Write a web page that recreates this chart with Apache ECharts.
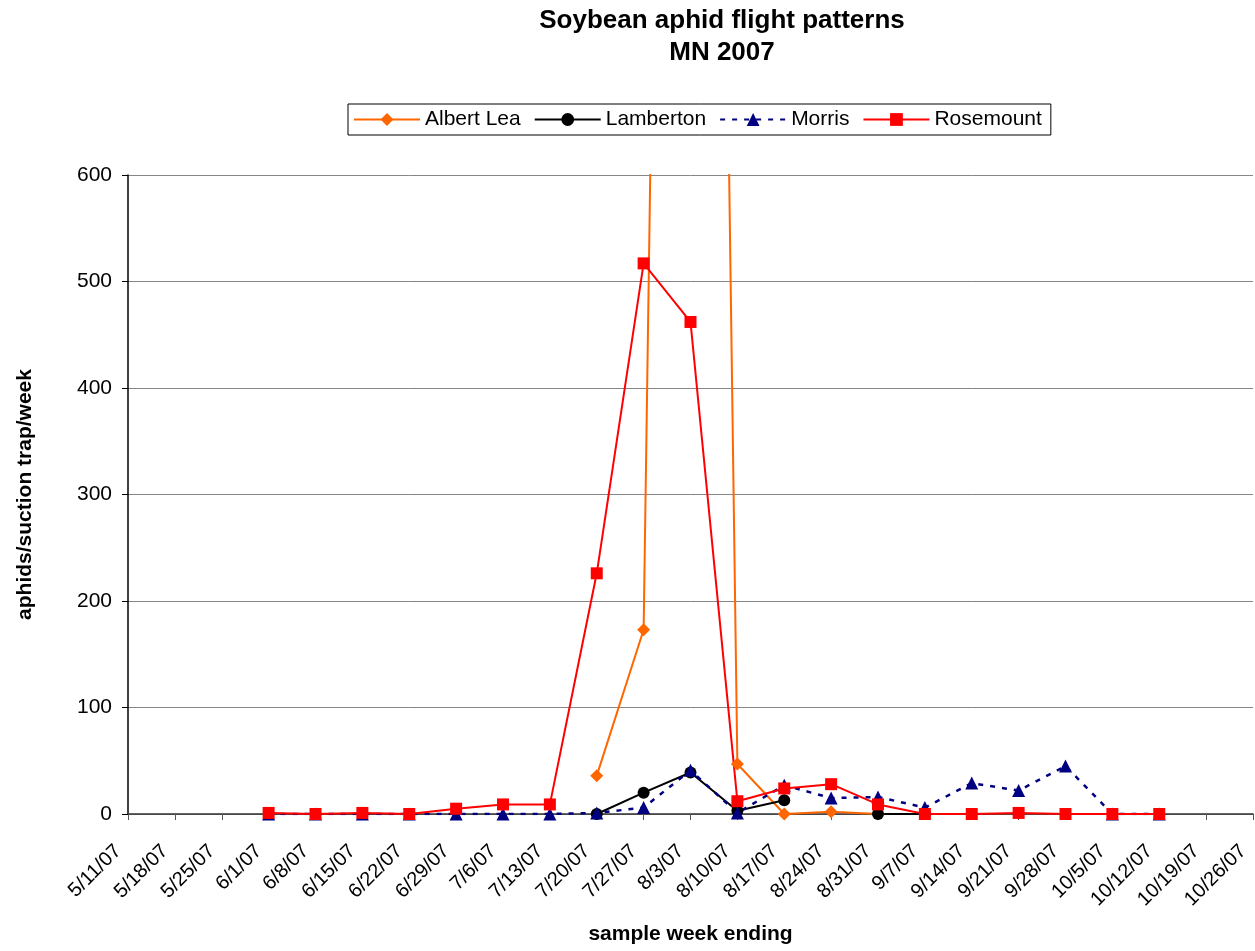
<!DOCTYPE html>
<html>
<head>
<meta charset="utf-8">
<title>Soybean aphid flight patterns MN 2007</title>
<script src="https://cdn.jsdelivr.net/npm/echarts@6/dist/echarts.min.js"></script>
<style>
  html, body { margin: 0; padding: 0; background: #fff; }
  #chart { width: 1255px; height: 951px; }
</style>
</head>
<body>
<div id="chart"></div>
<script>
// sample week ending dates
const weeks = ['5/11/07', '5/18/07', '5/25/07', '6/1/07', '6/8/07', '6/15/07', '6/22/07',
  '6/29/07', '7/6/07', '7/13/07', '7/20/07', '7/27/07', '8/3/07', '8/10/07', '8/17/07',
  '8/24/07', '8/31/07', '9/7/07', '9/14/07', '9/21/07', '9/28/07', '10/5/07', '10/12/07',
  '10/19/07', '10/26/07'];

// aphids/suction trap/week (null = no sample)
const albertLea = [null, null, null, null, null, null, null, null, null, null,
  36, 173, 3200, 47, 0, 2, 0, null, null, null, null, null, null, null, null];
const lamberton = [null, null, null, null, null, null, null, null, null, null,
  0, 20, 39, 3, 13, null, 0, 0, null, null, null, null, null, null, null];
const morris = [null, null, null, 0, 0, 0, 0, 0, 0, 0,
  1, 6, 41, 1, 27, 15, 16, 6, 29, 22, 45, 0, 0, null, null];
const rosemount = [null, null, null, 1, 0, 1, 0, 5, 9, 9,
  226, 517, 462, 12, 24, 28, 9, 0, 0, 1, 0, 0, 0, null, null];

const yTicks = [0, 100, 200, 300, 400, 500, 600];

const FONT = '"Liberation Sans", Arial, sans-serif';

const chart = echarts.init(document.getElementById('chart'), null, { renderer: 'canvas' });

function lineSeries(name, data, color, symbol, size, dash) {
  return {
    name: name,
    type: 'line',
    data: data,
    symbol: symbol,
    symbolSize: size,
    showAllSymbol: true,
    connectNulls: false,
    clip: true,
    lineStyle: { color: color, width: dash ? 2.5 : 2, type: dash || 'solid' },
    itemStyle: { color: color },
    emphasis: { disabled: true }
  };
}

chart.setOption({
  animation: false,
  backgroundColor: '#ffffff',
  textStyle: { fontFamily: FONT },
  title: {
    text: 'Soybean aphid flight patterns\nMN 2007',
    left: 717,
    top: 0,
    textAlign: 'center',
    textStyle: { fontFamily: FONT, fontSize: 26, fontWeight: 'bold', color: '#000', lineHeight: 32 }
  },
  legend: {
    left: 348,
    top: 104,
    orient: 'horizontal',
    itemWidth: 66,
    itemHeight: 16,
    itemGap: 13,
    padding: [5, 9, 5, 5],
    borderColor: '#000',
    borderWidth: 1,
    textStyle: { fontFamily: FONT, fontSize: 21, color: '#000' },
    data: ['Albert Lea', 'Lamberton', 'Morris', 'Rosemount']
  },
  grid: { left: 128, right: 2, top: 175, bottom: 137, containLabel: false },
  xAxis: {
    type: 'category',
    data: weeks,
    boundaryGap: false,
    name: 'sample week ending',
    nameLocation: 'middle',
    nameGap: 110,
    nameTextStyle: { fontFamily: FONT, fontSize: 21, fontWeight: 'bold', color: '#000' },
    axisLine: { lineStyle: { color: '#333', width: 1.5 } },
    axisTick: { show: true, alignWithLabel: true, length: 6, lineStyle: { color: '#555' } },
    axisLabel: { rotate: 45, margin: 24, padding: [0, 14, 0, 0], fontFamily: FONT, fontSize: 20, color: '#000', interval: 0 },
    splitLine: { show: false }
  },
  yAxis: {
    type: 'value',
    min: yTicks[0],
    max: yTicks[yTicks.length - 1],
    interval: 100,
    name: 'aphids/suction trap/week',
    nameLocation: 'middle',
    nameGap: 92,
    nameTextStyle: { fontFamily: FONT, fontSize: 21, fontWeight: 'bold', color: '#000' },
    axisLine: { show: true, lineStyle: { color: '#000', width: 1.5 } },
    axisTick: { show: true, length: 6, lineStyle: { color: '#000' } },
    axisLabel: { margin: 16, fontFamily: FONT, fontSize: 21, color: '#000' },
    splitLine: { show: true, lineStyle: { color: '#868686', width: 1 } }
  },
  series: [
    lineSeries('Albert Lea', albertLea, '#FF6600', 'diamond', 13, null),
    lineSeries('Lamberton', lamberton, '#000000', 'circle', 12, null),
    lineSeries('Morris', morris, '#000080', 'triangle', 13, [5, 7]),
    lineSeries('Rosemount', rosemount, '#FF0000', 'rect', 12, null)
  ]
});
</script>
</body>
</html>
